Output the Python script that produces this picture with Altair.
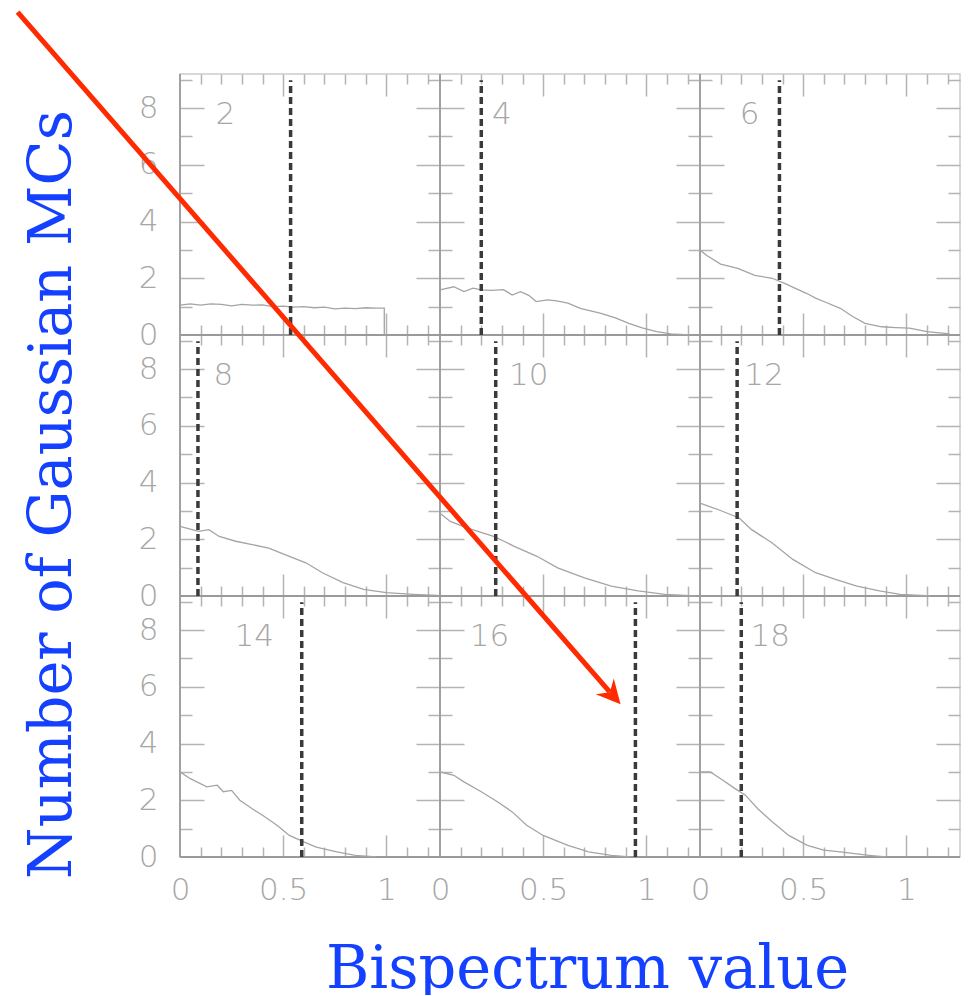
import altair as alt
import pandas as pd

# ---- panel geometry in data units ----
W = 1.26   # x-extent of one panel (bispectrum value)
H = 9.2    # y-extent of one panel (number of MCs)

panels = [2, 4, 6, 8, 10, 12, 14, 16, 18]

hist_x = {
    2: [0, 0.05, 0.1, 0.15, 0.2, 0.25, 0.3, 0.35, 0.4, 0.45, 0.5, 0.55, 0.6, 0.65, 0.7, 0.75, 0.8, 0.85, 0.9, 0.95, 0.99, 0.99],
    4: [0, 0.067, 0.116, 0.16, 0.2, 0.25, 0.308, 0.35, 0.39, 0.43, 0.466, 0.52, 0.565, 0.62, 0.68, 0.73, 0.78, 0.85, 0.915, 0.98, 1.05, 1.12, 1.21],
    6: [0, 0.033, 0.1, 0.183, 0.266, 0.35, 0.416, 0.47, 0.516, 0.56, 0.6, 0.68, 0.74, 0.8, 0.88, 0.95, 1.015, 1.1, 1.21],
    8: [0, 0.09, 0.14, 0.19, 0.27, 0.35, 0.43, 0.53, 0.61, 0.69, 0.79, 0.89, 1.0, 1.13, 1.25],
    10: [0, 0.05, 0.13, 0.26, 0.31, 0.36, 0.47, 0.57, 0.7, 0.83, 0.96, 1.09, 1.24],
    12: [0, 0.09, 0.19, 0.25, 0.35, 0.45, 0.56, 0.66, 0.76, 0.87, 0.97, 1.12],
    14: [0, 0.05, 0.13, 0.18, 0.21, 0.25, 0.29, 0.35, 0.4, 0.47, 0.53, 0.6, 0.66, 0.76, 0.85, 0.95],
    16: [0, 0.067, 0.116, 0.2, 0.28, 0.35, 0.42, 0.5, 0.62, 0.72, 0.83, 0.92],
    18: [0, 0.05, 0.1, 0.17, 0.22, 0.28, 0.35, 0.43, 0.52, 0.6, 0.68, 0.82, 0.9],
}
hist_y = {
    2: [1.05, 1.1, 1.05, 1.1, 1.08, 1.03, 1.08, 1.05, 1.06, 1.0, 1.02, 0.98, 1.0, 0.96, 0.98, 0.92, 0.95, 0.93, 0.96, 0.95, 0.95, 0],
    4: [1.59, 1.7, 1.53, 1.65, 1.59, 1.57, 1.6, 1.41, 1.53, 1.4, 1.18, 1.24, 1.2, 1.12, 0.94, 0.85, 0.76, 0.6, 0.41, 0.25, 0.12, 0.04, 0.0],
    6: [3.0, 2.8, 2.5, 2.35, 2.1, 2.0, 1.8, 1.62, 1.47, 1.3, 1.18, 0.94, 0.65, 0.41, 0.29, 0.26, 0.24, 0.12, 0.04],
    8: [2.45, 2.28, 2.34, 2.1, 1.93, 1.81, 1.69, 1.4, 1.17, 0.82, 0.47, 0.23, 0.12, 0.06, 0.02],
    10: [2.92, 2.63, 2.4, 2.1, 1.93, 1.75, 1.4, 0.99, 0.64, 0.35, 0.18, 0.06, 0.0],
    12: [3.27, 3.04, 2.75, 2.34, 1.87, 1.29, 0.82, 0.58, 0.35, 0.18, 0.06, 0.0],
    14: [3.0, 2.76, 2.47, 2.53, 2.3, 2.35, 2.0, 1.7, 1.47, 1.12, 0.76, 0.53, 0.35, 0.18, 0.06, 0.0],
    16: [3.0, 2.88, 2.65, 2.3, 1.94, 1.59, 1.12, 0.76, 0.41, 0.18, 0.06, 0.0],
    18: [3.0, 3.0, 2.76, 2.41, 2.18, 1.7, 1.24, 0.76, 0.41, 0.24, 0.18, 0.06, 0.0],
}
threshold = [0.536, 0.20, 0.385, 0.087, 0.27, 0.18, 0.59, 0.947, 0.20]
label_x = [0.22, 0.30, 0.24, 0.21, 0.43, 0.31, 0.36, 0.24, 0.34]
label_y = 7.75
dash_top = 8.98

x_label_ticks = [0, 0.5, 1]
x_major_ticks = [0.5, 1.0]
x_minor_ticks = [0.1, 0.2, 0.3, 0.4, 0.6, 0.7, 0.8, 0.9, 1.1, 1.2]
y_label_ticks = [0, 2, 4, 6, 8]
y_major_ticks = [2, 4, 6, 8]
y_minor_ticks = [1, 3, 5, 7, 9]

# red annotation arrow (combined-panel data units)
arrow_x = [-0.787, 2.135]
arrow_y = [29.78, 5.38]

# ---- build tables ----
hist_rows, thr_rows, lab_rows = [], [], []
for i, p in enumerate(panels):
    r, c = divmod(i, 3)
    x0, y0 = c * W, (2 - r) * H
    for k, (xv, yv) in enumerate(zip(hist_x[p], hist_y[p])):
        hist_rows.append({"panel": p, "k": k, "X": x0 + xv, "Y": y0 + yv})
    thr_rows.append({"panel": p, "X": x0 + threshold[i], "Y": y0, "Y2": y0 + dash_top})
    lab_rows.append({"panel": p, "X": x0 + label_x[i], "Y": y0 + label_y, "txt": str(p)})

hist_df = pd.DataFrame(hist_rows)
thr_df = pd.DataFrame(thr_rows)
lab_df = pd.DataFrame(lab_rows)
vb_df = pd.DataFrame({"X": [0, W, 2 * W]})
hb_df = pd.DataFrame({"Y": [0, H, 2 * H]})
frac = 0.982
arr_line = pd.DataFrame({
    "X": [arrow_x[0]], "Y": [arrow_y[0]],
    "X2": [arrow_x[0] + frac * (arrow_x[1] - arrow_x[0])],
    "Y2": [arrow_y[0] + frac * (arrow_y[1] - arrow_y[0])],
})
arr_head = pd.DataFrame({"X": [arrow_x[1]], "Y": [arrow_y[1]]})

xs = alt.Scale(domain=[0, 3 * W], nice=False, zero=False)
ys = alt.Scale(domain=[0, 3 * H], nice=False, zero=False)

TICK = "#b4b4b4"
LAB = "#a6a6a6"
BLUE = "#1440ff"
TITLE_FONT = "DejaVu Serif"

def vals(base_list, step, n=3):
    return [round(k * step + v, 6) for k in range(n) for v in base_list]

x_lab_axis = alt.Axis(
    orient="bottom", values=vals(x_label_ticks, W),
    labelExpr=f"format(datum.value - floor(datum.value/{W} + 0.001)*{W}, '.1~f')",
    grid=False, ticks=False, domain=False, labelOverlap=False, labelFlush=False,
    labelFont="DejaVu Sans", labelFontSize=31, labelFontWeight=200, labelColor=LAB, labelPadding=18,
    title="Bispectrum value", titleFont=TITLE_FONT, titleFontSize=59,
    titleFontWeight="normal", titleColor=BLUE, titleX=407, titleY=130,
    titleAlign="center", titleBaseline="alphabetic",
)
y_lab_axis = alt.Axis(
    orient="left", values=vals(y_label_ticks, H),
    labelExpr=f"format(datum.value - floor(datum.value/{H} + 0.001)*{H}, '.0f')",
    grid=False, ticks=False, domain=False, labelOverlap=False, labelFlush=False,
    labelFont="DejaVu Sans", labelFontSize=31, labelFontWeight=200, labelColor=LAB, labelPadding=22,
    labelBaseline="middle",
    title="Number of Gaussian MCs", titleFont=TITLE_FONT, titleFontSize=59,
    titleFontWeight="normal", titleColor=BLUE, titleX=-110, titleY=420, titleAngle=270,
    titleAlign="center", titleBaseline="alphabetic",
)

def grid_axis(orient, values, length, period):
    return alt.Axis(
        orient=orient, values=values, grid=True, gridColor=TICK, gridWidth=1.5,
        gridDash=[length, period - 2 * length, length, 0],
        labels=False, ticks=False, domain=False, title=None,
    )

PX_W = 260
PX_H = 261

hist = alt.Chart(hist_df).mark_line(interpolate="linear", color="#a4a4a4", strokeWidth=1.3).encode(
    x=alt.X("X:Q", scale=xs, axis=x_lab_axis),
    y=alt.Y("Y:Q", scale=ys, axis=y_lab_axis),
    detail="panel:N",
    order="k:Q",
)

thr = alt.Chart(thr_df).mark_rule(color="#3a3a3a", strokeWidth=3.5, strokeDash=[7, 4]).encode(
    x=alt.X("X:Q", scale=xs, axis=grid_axis("bottom", vals(x_major_ticks, W), 22, PX_H)),
    y=alt.Y("Y:Q", scale=ys, axis=grid_axis("left", vals(y_major_ticks, H), 24, PX_W)),
    y2="Y2:Q",
)

labels = alt.Chart(lab_df).mark_text(
    font="DejaVu Sans", fontSize=31, fontWeight=200, color=LAB, align="center", baseline="middle"
).encode(
    x=alt.X("X:Q", scale=xs, axis=grid_axis("bottom", vals(x_minor_ticks, W), 10, PX_H)),
    y=alt.Y("Y:Q", scale=ys, axis=grid_axis("left", vals(y_minor_ticks, H), 12, PX_W)),
    text="txt:N",
)

vb = alt.Chart(vb_df).mark_rule(color="#a0a0a0", strokeWidth=2).encode(
    x=alt.X("X:Q", scale=xs, axis=None)
)
hb = alt.Chart(hb_df).mark_rule(color="#9a9a9a", strokeWidth=2.2).encode(
    y=alt.Y("Y:Q", scale=ys, axis=None)
)

arrow = alt.Chart(arr_line).mark_rule(color="#ff2a00", strokeWidth=5).encode(
    x=alt.X("X:Q", scale=xs, axis=None), y=alt.Y("Y:Q", scale=ys, axis=None),
    x2="X2:Q", y2="Y2:Q",
)
head = alt.Chart(arr_head).mark_point(
    shape="M0,0 L-2,-1 L-1.35,0 L-2,1 Z", filled=True, fill="#ff2a00", color="#ff2a00",
    opacity=1, size=576, angle=48.8, strokeWidth=0,
).encode(
    x=alt.X("X:Q", scale=xs, axis=None), y=alt.Y("Y:Q", scale=ys, axis=None),
)

chart = alt.layer(vb, hb, hist, thr, labels, arrow, head).resolve_axis(
    x="independent", y="independent"
).properties(
    width=780, height=783,
    autosize=alt.AutoSizeParams(type="none"),
    padding={"left": 172, "top": 66, "right": 4, "bottom": 138},
    background="white",
).configure_view(stroke="#cccccc", strokeWidth=1.5)

chart.save("out.html", embed_options={"renderer": "svg", "actions": False})
